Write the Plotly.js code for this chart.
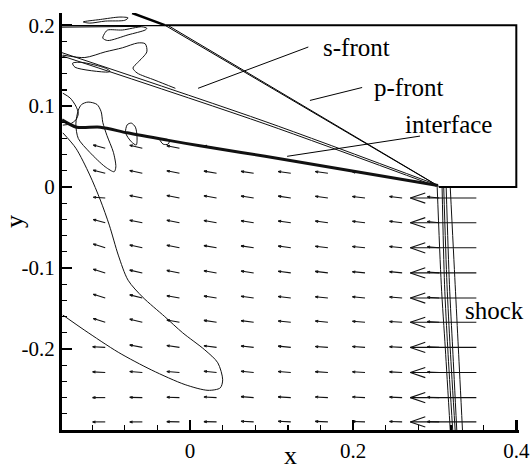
<!DOCTYPE html>
<html>
<head>
<meta charset="utf-8">
<script src="https://cdn.plot.ly/plotly-3.0.1.min.js"></script>
<style>
  html, body { margin: 0; padding: 0; background: #fff; }
  #chart { width: 530px; height: 470px; }
  #chart svg text { font-family: 'Liberation Serif', 'DejaVu Serif', 'Noto Serif', serif !important; }
</style>
</head>
<body>
<div id="chart"></div>
<script>
// ---- velocity field: vectors are anchored at their tail on this grid ----
const gridX = [-0.104, -0.0585, -0.013, 0.0325, 0.078, 0.1235, 0.169, 0.2145, 0.26, 0.3055, 0.351];
const gridY = [0.048, 0.017, -0.0135, -0.044, -0.075, -0.106, -0.137, -0.167, -0.198, -0.229, -0.260, -0.290];

// u, v normalised by the free-stream speed (null = outside the flow region)
const velU = [
  [-0.18, -0.19, -0.19, -0.19, null, null, null, null, null, null, null],
  [-0.18, -0.19, -0.19, -0.19, -0.19, -0.19, -0.19, -0.19, null, null, null],
  [-0.18, -0.19, -0.19, -0.19, -0.19, -0.19, -0.19, -0.19, -0.19, -0.18, -1.00],
  [-0.18, -0.19, -0.19, -0.19, -0.19, -0.19, -0.19, -0.19, -0.19, -0.18, -1.00],
  [-0.18, -0.19, -0.19, -0.19, -0.19, -0.19, -0.19, -0.19, -0.19, -0.18, -1.00],
  [-0.18, -0.19, -0.19, -0.19, -0.19, -0.19, -0.19, -0.19, -0.19, -0.18, -1.00],
  [-0.18, -0.19, -0.19, -0.19, -0.19, -0.19, -0.19, -0.19, -0.19, -0.18, -1.00],
  [-0.18, -0.19, -0.19, -0.19, -0.19, -0.19, -0.19, -0.19, -0.19, -0.18, -1.00],
  [-0.19, -0.19, -0.19, -0.19, -0.19, -0.19, -0.19, -0.19, -0.19, -0.18, -1.00],
  [-0.19, -0.19, -0.19, -0.19, -0.19, -0.19, -0.19, -0.19, -0.19, -0.18, -1.00],
  [-0.19, -0.19, -0.19, -0.19, -0.19, -0.19, -0.19, -0.19, -0.19, -0.18, -1.00],
  [-0.19, -0.19, -0.19, -0.19, -0.19, -0.19, -0.19, -0.19, -0.19, -0.18, -1.00]
];
const velV = [
  [0.048, 0.046, 0.038, 0.038, null, null, null, null, null, null, null],
  [0.048, 0.042, 0.038, 0.034, 0.030, 0.029, 0.027, 0.023, null, null, null],
  [0.012, 0.038, 0.038, 0.034, 0.030, 0.029, 0.027, 0.023, 0.023, 0.019, 0],
  [0.048, 0.038, 0.038, 0.034, 0.030, 0.027, 0.025, 0.023, 0.023, 0.019, 0],
  [0.057, 0.042, 0.038, 0.034, 0.029, 0.027, 0.023, 0.021, 0.019, 0.015, 0],
  [0.057, 0.042, 0.038, 0.032, 0.029, 0.025, 0.023, 0.019, 0.019, 0.015, 0],
  [0.057, 0.048, 0.034, 0.030, 0.027, 0.023, 0.019, 0.019, 0.015, 0.011, 0],
  [0.057, 0.048, 0.034, 0.029, 0.025, 0.021, 0.019, 0.015, 0.013, 0.010, 0],
  [0.010, 0.038, 0.029, 0.025, 0.021, 0.019, 0.015, 0.013, 0.011, 0.010, 0],
  [0.010, 0.015, 0.015, 0.019, 0.019, 0.015, 0.013, 0.011, 0.010, 0.008, 0],
  [0.000, 0.004, 0.006, 0.010, 0.015, 0.011, 0.010, 0.010, 0.008, 0.006, 0],
  [0.000, 0.000, 0.004, 0.004, 0.010, 0.010, 0.008, 0.006, 0.006, 0.004, 0]
];

// ---- interface (contact surface) ----
const interfaceX = [-0.157, -0.139, -0.110, -0.077, -0.028, 0.012, 0.092, 0.304];
const interfaceY = [0.083, 0.074, 0.074, 0.067, 0.058, 0.051, 0.038, 0.002];

// ---- body outline and upper boundary ----
const bodyX = [-0.031, 0.4, 0.4, 0.305];
const bodyY = [0.200, 0.200, 0.000, 0.000];
const upperEdgeX = [-0.071, -0.031];
const upperEdgeY = [0.215, 0.200];

// ---- p-front and s-front (double contour lines) ----
const pFrontAX = [-0.031, 0.303], pFrontAY = [0.200, 0.002];
const pFrontBX = [-0.026, 0.305], pFrontBY = [0.199, 0.001];
const sFrontAX = [-0.157, 0.092, 0.302], sFrontAY = [0.166, 0.081, 0.003];
const sFrontBX = [-0.157, 0.092, 0.302], sFrontBY = [0.162, 0.078, 0.001];

// ---- shock (family of contour lines) ----
const shockY = [0.0, -0.12, -0.20, -0.30];
const shockX = [
  [0.303, 0.308, 0.313, 0.319],
  [0.309, 0.312, 0.316, 0.322],
  [0.311, 0.315, 0.319, 0.325],
  [0.314, 0.318, 0.322, 0.327],
  [0.319, 0.325, 0.329, 0.334]
];

// ---- other contour lines ----
const contourFX = [-0.156, -0.140, -0.123, -0.110, -0.099, -0.088, -0.076, -0.058, -0.031, -0.009, 0.018, 0.034, 0.040, 0.037, 0.022, -0.006, -0.047, -0.088, -0.129, -0.156];
const contourFY = [0.067, 0.048, 0.015, -0.016, -0.047, -0.084, -0.115, -0.136, -0.160, -0.180, -0.201, -0.217, -0.238, -0.248, -0.251, -0.244, -0.226, -0.204, -0.177, -0.158];
const contourEX = [-0.137, -0.133, -0.125, -0.114, -0.109, -0.107, -0.102, -0.094, -0.091, -0.093, -0.104, -0.123, -0.137, -0.140, -0.137];
const contourEY = [0.095, 0.102, 0.105, 0.102, 0.093, 0.080, 0.064, 0.043, 0.025, 0.019, 0.025, 0.043, 0.060, 0.078, 0.095];
const contourDX = [-0.156, -0.147, -0.140, -0.137, -0.140, -0.147, -0.156];
const contourDY = [0.116, 0.110, 0.100, 0.091, 0.083, 0.078, 0.0765];
const contourGX = [-0.072, -0.077, -0.079, -0.072, -0.066, -0.065, -0.067, -0.072];
const contourGY = [0.079, 0.077, 0.067, 0.056, 0.052, 0.062, 0.074, 0.079];
const contourHX = [-0.037, -0.033, -0.027, -0.025];
const contourHY = [0.058, 0.053, 0.053, 0.057];
const contourAX = [-0.156, -0.129, -0.104, -0.083, -0.064, -0.055, -0.053, -0.064, -0.070, -0.065, -0.043, -0.018];
const contourAY = [0.163, 0.160, 0.167, 0.172, 0.178, 0.177, 0.167, 0.154, 0.147, 0.141, 0.132, 0.122];
const contourBX = [-0.104, -0.107, -0.101, -0.076, -0.055, -0.053, -0.059, -0.083, -0.101, -0.104];
const contourBY = [0.191, 0.184, 0.181, 0.188, 0.194, 0.196, 0.198, 0.194, 0.194, 0.191];
const contourCX = [-0.144, -0.141, -0.101, -0.098, -0.104, -0.133, -0.144];
const contourCY = [0.153, 0.148, 0.142, 0.143, 0.147, 0.154, 0.153];
const contourIX = [-0.131, -0.110, -0.086, -0.076, -0.080, -0.104, -0.123, -0.131];
const contourIY = [0.204, 0.207, 0.210, 0.209, 0.206, 0.205, 0.2025, 0.204];
const topStripX = [-0.157, -0.031], topStripY = [0.1995, 0.1995];
const topStrip2X = [-0.157, -0.060], topStrip2Y = [0.1975, 0.1985];

// ---- labels and their leader lines ----
const labelText = ['s-front', 'p-front', 'interface', 'shock'];
const leaderSX = [0.0098, 0.145], leaderSY = [0.122, 0.173];
const leaderPX = [0.147, 0.211], leaderPY = [0.107, 0.123];
const leaderIX = [0.119, 0.282], leaderIY = [0.038, 0.063];

// ---- axis ticks ----
const xTickVals = [0, 0.2, 0.4];
const xTickText = ['0', '0.2', '0.4'];
const yTickVals = [-0.2, -0.1, 0, 0.1, 0.2];
const yTickText = ['-0.2', '-0.1', '0', '0.1', '0.2'];

// build the vector glyphs (shaft + open head) in data coordinates
const VEC_SCALE = 0.081;   // plot units per unit of normalised velocity
const HEAD_FRAC = 0.24, HEAD_ANG = 0.33;
const vecX = [], vecY = [];
for (let j = 0; j < gridY.length; j++) {
  for (let i = 0; i < gridX.length; i++) {
    const u = velU[j][i], v = velV[j][i];
    if (u === null || v === null) continue;
    const x0 = gridX[i], y0 = gridY[j];
    const x1 = x0 + VEC_SCALE * u, y1 = y0 + VEC_SCALE * v;
    const len = Math.hypot(x1 - x0, y1 - y0);
    const ang = Math.atan2(y1 - y0, x1 - x0);
    const h = HEAD_FRAC * len;
    vecX.push(x0, x1, null,
      x1 + h * Math.cos(ang + Math.PI - HEAD_ANG), x1, x1 + h * Math.cos(ang + Math.PI + HEAD_ANG), null);
    vecY.push(y0, y1, null,
      y1 + h * Math.sin(ang + Math.PI - HEAD_ANG), y1, y1 + h * Math.sin(ang + Math.PI + HEAD_ANG), null);
  }
}

function line(x, y, w, color) {
  return { type: 'scatter', mode: 'lines', x: x, y: y, hoverinfo: 'skip', showlegend: false,
           line: { color: color || '#000', width: w, shape: 'linear' } };
}
function spline(x, y, w) {
  return { type: 'scatter', mode: 'lines', x: x, y: y, hoverinfo: 'skip', showlegend: false,
           line: { color: '#111', width: w, shape: 'spline', smoothing: 0.8 } };
}

const traces = [
  line(vecX, vecY, 1.1, '#111'),
  spline(contourFX, contourFY, 1),
  spline(contourEX, contourEY, 1),
  spline(contourDX, contourDY, 1),
  spline(contourGX, contourGY, 1),
  spline(contourHX, contourHY, 1),
  spline(contourAX, contourAY, 1),
  spline(contourBX, contourBY, 1),
  spline(contourCX, contourCY, 1),
  spline(contourIX, contourIY, 1),
  line(topStripX, topStripY, 1.2),
  line(topStrip2X, topStrip2Y, 1),
  line(pFrontAX, pFrontAY, 1),
  line(pFrontBX, pFrontBY, 1),
  spline(sFrontAX, sFrontAY, 1),
  spline(sFrontBX, sFrontBY, 1)
];
shockX.forEach(sx => traces.push(spline(sx, shockY, 1)));
traces.push(
  spline(interfaceX, interfaceY, 3),
  line(bodyX, bodyY, 2),
  line(upperEdgeX, upperEdgeY, 2.5),
  line(leaderSX, leaderSY, 1),
  line(leaderPX, leaderPY, 1),
  line(leaderIX, leaderIY, 1)
);

const serif = 'Liberation Serif';
const labelFont = { family: serif, size: 25 };

const layout = {
  width: 530, height: 470,
  margin: { l: 62, r: 11, t: 13, b: 40 },
  paper_bgcolor: '#fff', plot_bgcolor: '#fff',
  showlegend: false,
  font: { family: serif, color: '#000' },
  xaxis: {
    range: [-0.157, 0.4033],
    tickmode: 'array', tickvals: xTickVals, ticktext: xTickText,
    ticks: 'inside', ticklen: 10, tickwidth: 2.5, tickcolor: '#000',
    minor: { tickmode: 'linear', tick0: 0, dtick: 0.04, ticks: 'inside', ticklen: 5, tickwidth: 1.2, tickcolor: '#000', showgrid: false },
    showline: true, linewidth: 2.5, linecolor: '#000', mirror: false,
    showgrid: false, zeroline: false,
    tickfont: { family: serif, size: 21 },
    title: { text: 'x', font: { family: serif, size: 26 }, standoff: 0 }
  },
  yaxis: {
    range: [-0.30, 0.215],
    tickmode: 'array', tickvals: yTickVals, ticktext: yTickText,
    ticks: 'inside', ticklen: 10, tickwidth: 2.5, tickcolor: '#000',
    minor: { tickmode: 'linear', tick0: 0, dtick: 0.02, ticks: 'inside', ticklen: 5, tickwidth: 1.2, tickcolor: '#000', showgrid: false },
    showline: true, linewidth: 3, linecolor: '#000', mirror: false,
    showgrid: false, zeroline: false,
    tickfont: { family: serif, size: 21 },
    title: { text: 'y', font: { family: serif, size: 26 }, standoff: 0 }
  },
  annotations: [
    { x: 0.160, y: 0.173, text: labelText[0] },
    { x: 0.223, y: 0.123, text: labelText[1] },
    { x: 0.261, y: 0.077, text: labelText[2] },
    { x: 0.335, y: -0.153, text: labelText[3] }
  ].map(a => Object.assign({ xref: 'x', yref: 'y', showarrow: false, xanchor: 'left', yanchor: 'middle', font: labelFont }, a))
};

Plotly.newPlot('chart', traces, layout, { staticPlot: true, displayModeBar: false });
</script>
</body>
</html>
